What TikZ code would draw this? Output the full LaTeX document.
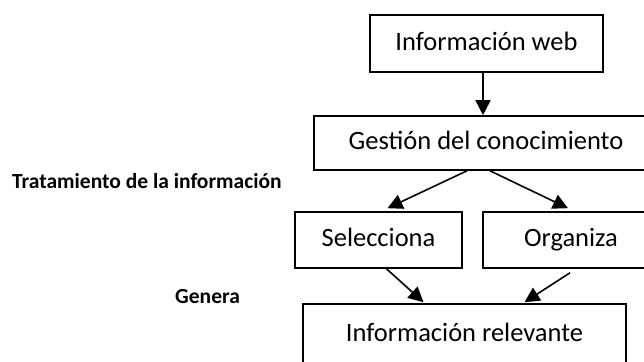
\documentclass[tikz,border=0pt]{standalone}
\usepackage{fontspec}
\setmainfont{Carlito}
\usetikzlibrary{arrows.meta,calc}
\tikzset{
  box/.style={draw=black, line width=1.6pt, rectangle, inner sep=0pt, text height=18pt, text depth=5pt, font=\fontsize{26.5}{30}\selectfont},
  arr/.style={line width=1.6pt, -{Triangle[length=15pt,width=15pt]}},
  lbl/.style={font=\bfseries\fontsize{21.5}{25}\selectfont, inner sep=0pt}
}
\begin{document}
\begin{tikzpicture}[x=1pt,y=-1pt]
\useasboundingbox (0,0) rectangle (644,361);
\clip (0,0) rectangle (644,361);
\fill[white] (0,0) rectangle (644,361);
\node[box, minimum width=233pt, minimum height=57pt] (iw) at (486.5,43.5) {Información web};
\node[box, minimum width=344pt, minimum height=54pt] (gc) at (486,143) {Gestión del conocimiento\hspace{9pt}};
\node[box, minimum width=167pt, minimum height=56pt] (sel) at (378.5,240) {Selecciona};
\node[box, minimum width=176pt, minimum height=56pt] (org) at (571,240) {Organiza\hspace{12pt}};
\node[box, minimum width=323pt, minimum height=62pt] (ir) at (464.5,335) {Información relevante};
\node[lbl, anchor=west] (tr) at (12,181) {Tratamiento de la información};
\node[lbl, anchor=west] (ge) at (175,297) {Genera};
\draw[arr] ($(iw.south)+(-3.5,0)$) -- ($(gc.north)+(-3,0)$);
\draw[arr] ($(gc.south)+(-19,0)$) -- ($(sel.north)+(9,-3)$);
\draw[arr] ($(gc.south)+(4,0)$) -- ($(org.north)+(-3,-3)$);
\draw[arr] ($(sel.south)+(8,0)$) -- ($(ir.north)+(-41,-1)$);
\draw[arr] ($(org.south)+(-1,4)$) -- ($(ir.north)+(60,-1)$);
\end{tikzpicture}
\end{document}
